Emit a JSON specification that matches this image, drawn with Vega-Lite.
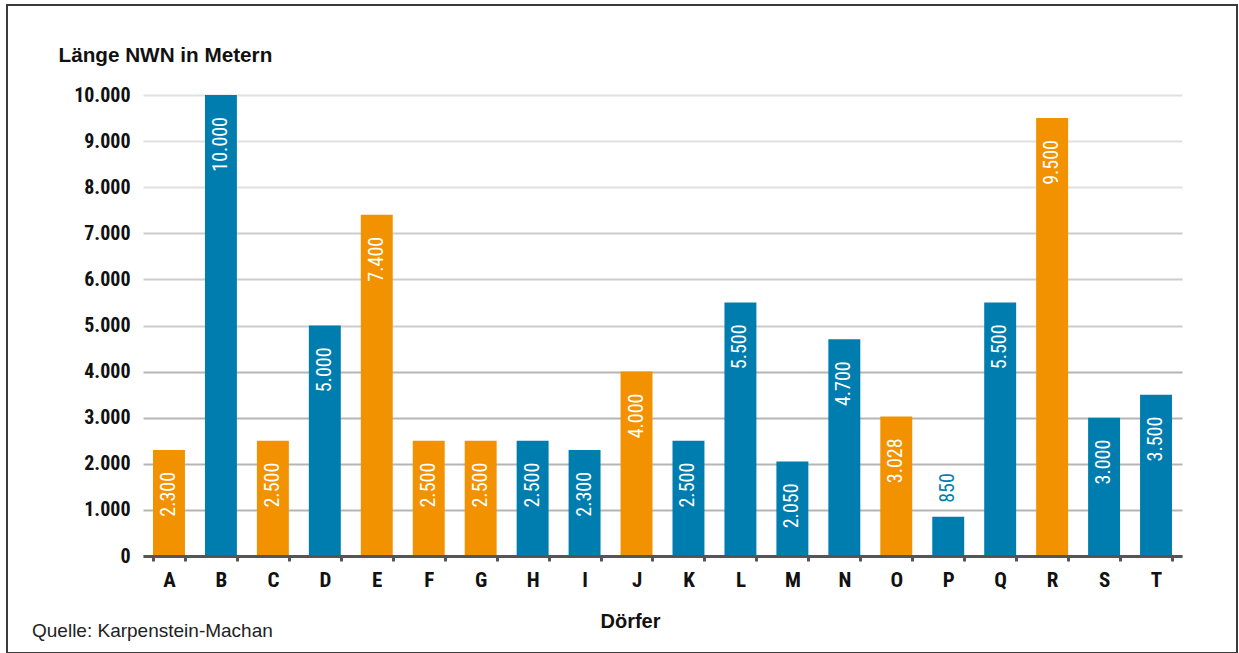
{
  "$schema": "https://vega.github.io/schema/vega-lite/v6.json",
  "width": 1230,
  "height": 648,
  "autosize": {"type": "none"},
  "padding": {"left": 7, "top": 5, "right": 2, "bottom": 0},
  "background": "white",
  "config": {
    "locale": {"number": {"decimal": ",", "thousands": ".", "grouping": [3], "currency": ["", " €"]}},
    "view": {"stroke": "#3a3a3a", "strokeWidth": 2}
  },
  "title": {
    "text": "Quelle: Karpenstein-Machan",
    "orient": "bottom",
    "anchor": "start",
    "frame": "group",
    "offset": -16,
    "dx": 25,
    "baseline": "alphabetic",
    "font": "Liberation Sans",
    "fontSize": 19,
    "fontWeight": "normal",
    "color": "#222222"
  },
  "data": {
    "values": [
      {"dorf": "A", "laenge": 2300, "gruppe": "orange"},
      {"dorf": "B", "laenge": 10000, "gruppe": "blau"},
      {"dorf": "C", "laenge": 2500, "gruppe": "orange"},
      {"dorf": "D", "laenge": 5000, "gruppe": "blau"},
      {"dorf": "E", "laenge": 7400, "gruppe": "orange"},
      {"dorf": "F", "laenge": 2500, "gruppe": "orange"},
      {"dorf": "G", "laenge": 2500, "gruppe": "orange"},
      {"dorf": "H", "laenge": 2500, "gruppe": "blau"},
      {"dorf": "I", "laenge": 2300, "gruppe": "blau"},
      {"dorf": "J", "laenge": 4000, "gruppe": "orange"},
      {"dorf": "K", "laenge": 2500, "gruppe": "blau"},
      {"dorf": "L", "laenge": 5500, "gruppe": "blau"},
      {"dorf": "M", "laenge": 2050, "gruppe": "blau"},
      {"dorf": "N", "laenge": 4700, "gruppe": "blau"},
      {"dorf": "O", "laenge": 3028, "gruppe": "orange"},
      {"dorf": "P", "laenge": 850, "gruppe": "blau"},
      {"dorf": "Q", "laenge": 5500, "gruppe": "blau"},
      {"dorf": "R", "laenge": 9500, "gruppe": "orange"},
      {"dorf": "S", "laenge": 3000, "gruppe": "blau"},
      {"dorf": "T", "laenge": 3500, "gruppe": "blau"}
    ]
  },
  "layer": [
    {
      "mark": {"type": "bar"},
      "encoding": {
        "x": {
          "field": "dorf",
          "type": "nominal",
          "sort": null,
          "scale": {"range": [136, 1175], "paddingInner": 0.385, "paddingOuter": 0.1925},
          "axis": {
            "title": "Dörfer",
            "orient": "bottom",
            "offset": -97,
            "zindex": 1,
            "grid": false,
            "domainColor": "#555555",
            "domainWidth": 3,
            "tickColor": "#555555",
            "tickWidth": 3,
            "tickSize": 5,
            "tickBand": "extent",
            "labelAngle": 0,
            "labelPadding": 8,
            "labelFont": "Roboto Condensed, Liberation Sans Narrow, Roboto, sans-serif",
            "labelFontSize": 21,
            "labelFontWeight": "bold",
            "labelColor": "#111111",
            "titleFont": "Liberation Sans",
            "titleFontSize": 20,
            "titleFontWeight": "bold",
            "titleColor": "#111111",
            "titleAlign": "center",
            "titleBaseline": "alphabetic",
            "titleX": 623,
            "titleY": 71
          }
        },
        "y": {
          "field": "laenge",
          "type": "quantitative",
          "scale": {"domain": [0, 10000], "range": [551, 90], "nice": false},
          "axis": {
            "title": "Länge NWN in Metern",
            "orient": "left",
            "offset": -123,
            "zindex": 0,
            "domain": false,
            "ticks": false,
            "labelPadding": 0,
            "values": [0, 1000, 2000, 3000, 4000, 5000, 6000, 7000, 8000, 9000, 10000],
            "format": ",d",
            "labelFont": "Roboto Condensed, Liberation Sans Narrow, Roboto, sans-serif",
            "labelFontSize": 20,
            "labelFontWeight": "bold",
            "labelColor": "#111111",
            "grid": true,
            "gridWidth": 2,
            "gridColor": {
              "condition": [
                {"test": "datum.value >= 8000", "value": "#e0e0e0"},
                {"test": "datum.value >= 5000", "value": "#cccccc"}
              ],
              "value": "#b5b5b5"
            },
            "titleAngle": 0,
            "titleAlign": "left",
            "titleBaseline": "alphabetic",
            "titleX": -72,
            "titleY": 56,
            "titleFont": "Liberation Sans",
            "titleFontSize": 20.7,
            "titleFontWeight": "bold",
            "titleColor": "#111111"
          }
        },
        "color": {
          "field": "gruppe",
          "type": "nominal",
          "scale": {"domain": ["orange", "blau"], "range": ["#F39200", "#007DAF"]},
          "legend": null
        }
      }
    },
    {
      "transform": [{"filter": "datum.laenge >= 1000"}],
      "mark": {
        "type": "text",
        "angle": 270,
        "align": "right",
        "baseline": "middle",
        "dx": -22,
        "color": "white",
        "font": "Roboto Condensed, Liberation Sans Narrow, Roboto, sans-serif",
        "fontSize": 20
      },
      "encoding": {
        "x": {"field": "dorf", "type": "nominal", "sort": null},
        "y": {"field": "laenge", "type": "quantitative"},
        "text": {"field": "laenge", "type": "quantitative", "format": ",d"}
      }
    },
    {
      "transform": [{"filter": "datum.laenge < 1000"}],
      "mark": {
        "type": "text",
        "angle": 270,
        "align": "left",
        "baseline": "middle",
        "dx": 14,
        "color": "#007DAF",
        "font": "Roboto Condensed, Liberation Sans Narrow, Roboto, sans-serif",
        "fontSize": 20
      },
      "encoding": {
        "x": {"field": "dorf", "type": "nominal", "sort": null},
        "y": {"field": "laenge", "type": "quantitative"},
        "text": {"field": "laenge", "type": "quantitative", "format": ",d"}
      }
    }
  ]
}
